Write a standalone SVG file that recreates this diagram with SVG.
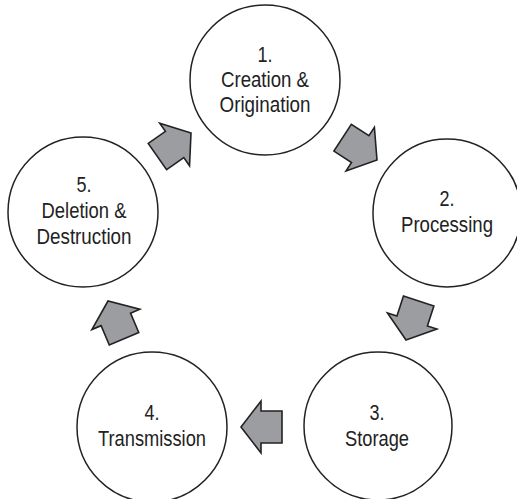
<svg xmlns="http://www.w3.org/2000/svg" width="517" height="499" viewBox="0 0 517 499">
<style>
.node circle{fill:#fff;stroke:#222;stroke-width:1.5}
.node text{font-family:"Liberation Sans",Arial,sans-serif;font-size:22px;fill:#222;text-anchor:middle}
.arrow{fill:#9c9da1;stroke:#222;stroke-width:1.6;stroke-linejoin:miter}
</style>
<defs>
<path id="arr" d="M0,0 L-20,-26 L-20,-16 L-41,-16 L-41,16 L-20,16 L-20,26 Z"/>
</defs>
<rect width="517" height="499" fill="#fff"/>
<g id="connectors">
<use href="#arr" class="arrow" transform="translate(191,133) rotate(-35)"/>
<use href="#arr" class="arrow" transform="translate(377,160) rotate(33)"/>
<use href="#arr" class="arrow" transform="translate(406,340) rotate(108)"/>
<use href="#arr" class="arrow" transform="translate(241,427) rotate(180)"/>
<use href="#arr" class="arrow" transform="translate(108,301) rotate(-113)"/>
</g>
<g id="node1" class="node">
<circle cx="265" cy="80" r="75"/>
<text x="265" y="62" textLength="15" lengthAdjust="spacingAndGlyphs">1.</text>
<text x="265" y="87" textLength="88" lengthAdjust="spacingAndGlyphs">Creation &amp;</text>
<text x="265" y="112" textLength="91" lengthAdjust="spacingAndGlyphs">Origination</text>
</g>
<g id="node2" class="node">
<circle cx="447" cy="213" r="74"/>
<text x="447" y="206" textLength="15" lengthAdjust="spacingAndGlyphs">2.</text>
<text x="447" y="232" textLength="92" lengthAdjust="spacingAndGlyphs">Processing</text>
</g>
<g id="node3" class="node">
<circle cx="378" cy="426" r="74"/>
<text x="377" y="420" textLength="15" lengthAdjust="spacingAndGlyphs">3.</text>
<text x="377" y="446" textLength="64" lengthAdjust="spacingAndGlyphs">Storage</text>
</g>
<g id="node4" class="node">
<circle cx="152" cy="427" r="75"/>
<text x="152" y="420" textLength="15" lengthAdjust="spacingAndGlyphs">4.</text>
<text x="152" y="446" textLength="108" lengthAdjust="spacingAndGlyphs">Transmission</text>
</g>
<g id="node5" class="node">
<circle cx="83" cy="212" r="75"/>
<text x="84" y="192" textLength="15" lengthAdjust="spacingAndGlyphs">5.</text>
<text x="84" y="218" textLength="85" lengthAdjust="spacingAndGlyphs">Deletion &amp;</text>
<text x="84" y="244" textLength="95" lengthAdjust="spacingAndGlyphs">Destruction</text>
</g>
</svg>
